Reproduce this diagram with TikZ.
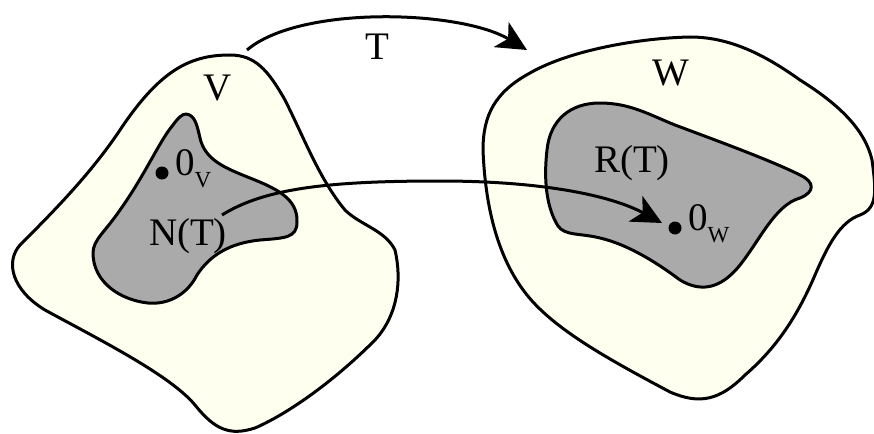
\documentclass[tikz,border=0pt]{standalone}
\usepackage{fontspec}
\setmainfont{Liberation Serif}
\usetikzlibrary{arrows.meta}
\definecolor{ivorycol}{RGB}{255,255,240}
\definecolor{graycol}{RGB}{170,170,170}
\begin{document}
\begin{tikzpicture}[x=1pt,y=-1pt,
  region/.style={draw=black,line width=3pt,line join=round},
  outer/.style={region,fill=ivorycol},
  inner/.style={region,fill=graycol},
  lbl/.style={font=\fontsize{39}{40}\selectfont,inner sep=0pt},
  mapto/.style={line width=3pt,-{Stealth[length=30pt,width=29pt,inset=8pt]}},
  zdot/.style={circle,fill=black,inner sep=0pt,minimum size=13pt}]
\useasboundingbox (0,0) rectangle (874,433);
% V
\draw[outer] (230,55)
  .. controls (190,55) and (160,70) .. (120,130)
  .. controls (90,175) and (50,215) .. (20,245)
  .. controls (5,262) and (12,290) .. (45,310)
  .. controls (100,340) and (170,375) .. (195,405)
  .. controls (215,430) and (230,436) .. (255,428)
  .. controls (285,415) and (330,385) .. (375,340)
  .. controls (398,315) and (402,280) .. (395,250)
  .. controls (385,230) and (360,225) .. (345,210)
  .. controls (320,180) and (305,140) .. (285,100)
  .. controls (268,70) and (255,55) .. (230,55) -- cycle;
% N(T)
\draw[inner] (186,114)
  .. controls (195,115) and (197,125) .. (200,138)
  .. controls (205,160) and (225,168) .. (250,178)
  .. controls (275,188) and (298,198) .. (297,222)
  .. controls (297,238) and (285,238) .. (260,240)
  .. controls (230,243) and (210,255) .. (197,275)
  .. controls (188,293) and (170,305) .. (148,303)
  .. controls (120,300) and (93,282) .. (93,253)
  .. controls (93,240) and (105,232) .. (120,210)
  .. controls (145,175) and (160,140) .. (173,125)
  .. controls (178,118) and (182,114) .. (186,114) -- cycle;
% W
\draw[outer] (690,37)
  .. controls (640,38) and (570,50) .. (530,73)
  .. controls (495,92) and (483,115) .. (483,150)
  .. controls (485,200) and (495,255) .. (527,295)
  .. controls (555,330) and (610,360) .. (670,392)
  .. controls (700,405) and (720,400) .. (745,375)
  .. controls (780,345) and (800,310) .. (815,275)
  .. controls (828,245) and (840,222) .. (860,215)
  .. controls (878,208) and (876,190) .. (872,160)
  .. controls (865,130) and (840,105) .. (800,80)
  .. controls (765,55) and (730,37) .. (690,37) -- cycle;
% R(T)
\draw[inner] (600,103)
  .. controls (570,103) and (550,120) .. (547,150)
  .. controls (543,185) and (548,210) .. (558,226)
  .. controls (565,236) and (580,233) .. (600,238)
  .. controls (630,245) and (660,265) .. (680,280)
  .. controls (700,292) and (720,290) .. (740,265)
  .. controls (760,240) and (775,205) .. (800,198)
  .. controls (815,192) and (815,182) .. (800,175)
  .. controls (770,160) and (715,140) .. (675,125)
  .. controls (650,115) and (630,103) .. (600,103) -- cycle;
% connectors
\coordinate (ts) at (247,50);
\coordinate (te) at (527,50);
\coordinate (ns) at (222,215);
\coordinate (nm) at (440,181);
\coordinate (ne) at (662,223);
\draw[mapto] (ts) .. controls (300,5) and (460,10) .. (te);
\draw[mapto] (ns) .. controls (265,188) and (330,181) .. (nm)
  .. controls (540,181) and (610,195) .. (ne);
% dots
\node[zdot] (zv) at (162,173) {};
\node[zdot] (zw) at (675,228) {};
% labels
\node[lbl,anchor=base] (lT) at (377,60) {T};
\node[lbl,anchor=base] (lV) at (218,100) {V};
\node[lbl,anchor=base] (lW) at (671,85) {W};
\node[lbl,anchor=base] (lN) at (188,245) {N(T)};
\node[lbl,anchor=base] (lR) at (632,172) {R(T)};
\node[lbl,anchor=base west] (l0v) at (175,175) {0\raisebox{-0.33em}{\fontsize{23}{24}\selectfont V}};
\node[lbl,anchor=base west] (l0w) at (688,230) {0\raisebox{-0.33em}{\fontsize{23}{24}\selectfont W}};
\end{tikzpicture}
\end{document}
